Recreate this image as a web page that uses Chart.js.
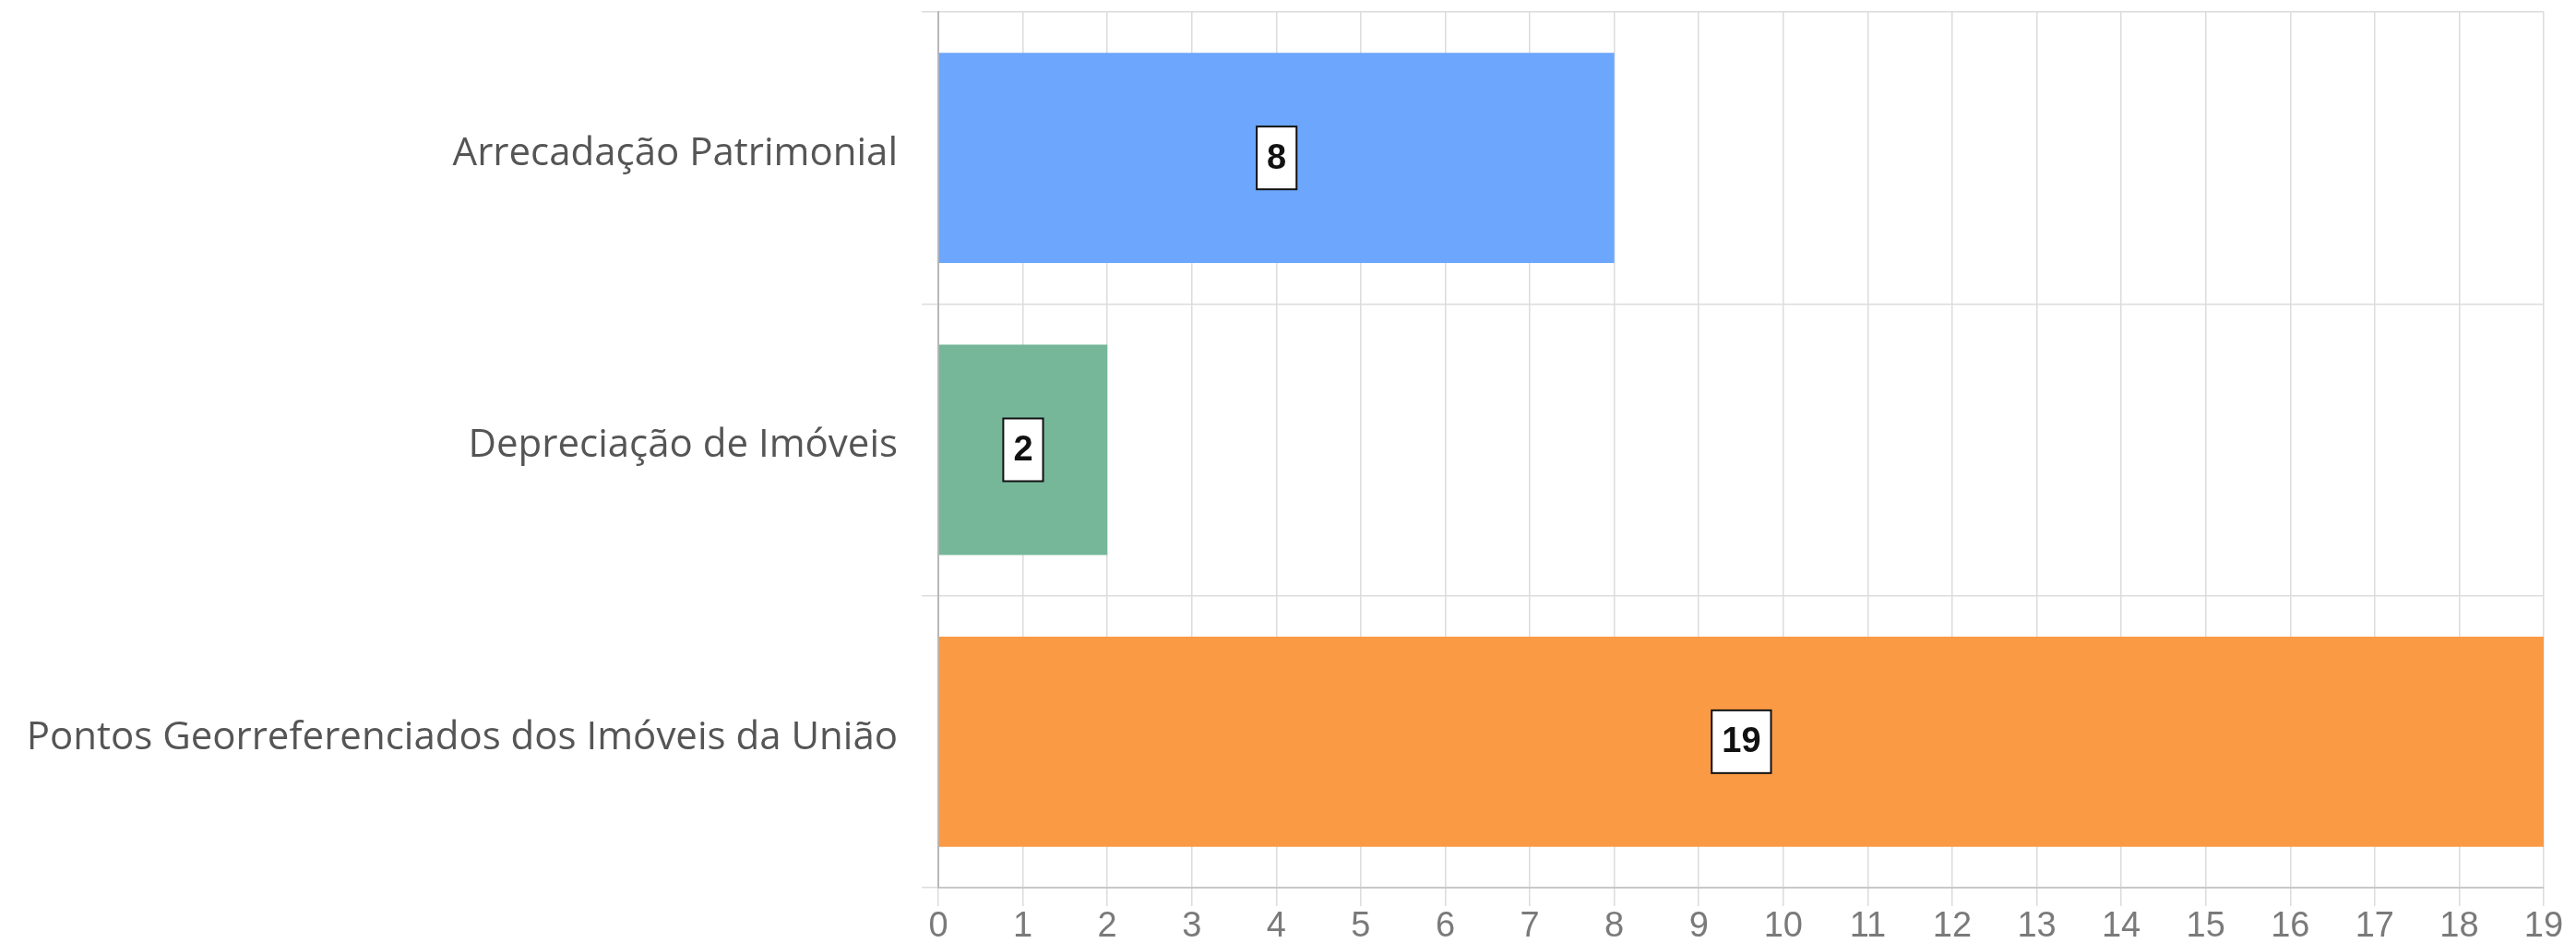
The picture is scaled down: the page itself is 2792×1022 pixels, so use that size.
<!DOCTYPE html>
<html>
<head>
<meta charset="utf-8">
<script src="https://cdn.jsdelivr.net/npm/chart.js@4.4.1/dist/chart.umd.min.js"></script>
<style>
  html, body { margin: 0; padding: 0; background: #fff; }
  #wrap { width: 2792px; height: 1022px; position: relative; }
</style>
</head>
<body>
<div id="wrap"><canvas id="chart"></canvas></div>
<script>
// dados do gráfico
const categorias = ["Arrecadação Patrimonial", "Depreciação de Imóveis", "Pontos Georreferenciados dos Imóveis da União"];
const valores = [8, 2, 19];
const cores = ["#6ca6fd", "#76b79a", "#fa9a45"];
const ticksX = [0, 1, 2, 3, 4, 5, 6, 7, 8, 9, 10, 11, 12, 13, 14, 15, 16, 17, 18, 19];

// caixinha branca com o valor no meio da barra
const rotuloValor = {
    id: "rotuloValor",
    afterDatasetsDraw(chart) {
        const ctx = chart.ctx;
        const meta = chart.getDatasetMeta(0);
        ctx.save();
        ctx.font = "bold 38px 'Liberation Sans', Arial, sans-serif";
        ctx.textAlign = "center";
        ctx.textBaseline = "middle";
        meta.data.forEach((bar, i) => {
            const texto = String(valores[i]);
            const cx = (bar.x + bar.base) / 2;
            const cy = bar.y;
            const w = ctx.measureText(texto).width + 22;
            const h = 68;
            ctx.fillStyle = "#fff";
            ctx.fillRect(cx - w / 2, cy - h / 2, w, h);
            ctx.strokeStyle = "#111";
            ctx.lineWidth = 2;
            ctx.strokeRect(cx - w / 2, cy - h / 2, w, h);
            ctx.fillStyle = "#111";
            ctx.fillText(texto, cx, cy + 1);
        });
        ctx.restore();
    }
};

const ctx = document.getElementById("chart").getContext("2d");
new Chart(ctx, {
    type: "bar",
    data: {
        labels: categorias,
        datasets: [{
            data: valores,
            backgroundColor: cores,
            borderWidth: 0,
            barPercentage: 0.9,
            categoryPercentage: 0.8
        }]
    },
    options: {
        indexAxis: "y",
        responsive: true,
        maintainAspectRatio: false,
        animation: false,
        devicePixelRatio: 1,
        layout: { padding: { top: 13, right: 35, left: 0, bottom: 0 } },
        plugins: {
            legend: { display: false },
            tooltip: { enabled: false }
        },
        scales: {
            x: {
                min: 0,
                max: 19,
                afterBuildTicks: (scale) => { scale.ticks = ticksX.map(v => ({ value: v })); },
                afterFit: (scale) => { scale.height = 60; },
                grid: { color: "#dcdcdc", lineWidth: 1.5, tickLength: 20 },
                border: { color: "#c8c8c8", width: 2 },
                ticks: {
                    color: "#7a7a7a",
                    padding: 0,
                    font: { family: "'Liberation Sans', Arial, sans-serif", size: 38 }
                }
            },
            y: {
                afterFit: (scale) => {
                    scale.width = 1017;
                    scale.paddingTop = 0;
                    scale.paddingBottom = 0;
                },
                grid: { color: "#dcdcdc", lineWidth: 1.5, tickLength: 18, offset: true },
                border: { color: "#b8b8b8", width: 2 },
                ticks: {
                    color: "#555",
                    padding: 26,
                    labelOffset: -4,
                    font: { family: "'Open Sans', sans-serif", size: 42 }
                }
            }
        }
    },
    plugins: [rotuloValor]
});
</script>
</body>
</html>
